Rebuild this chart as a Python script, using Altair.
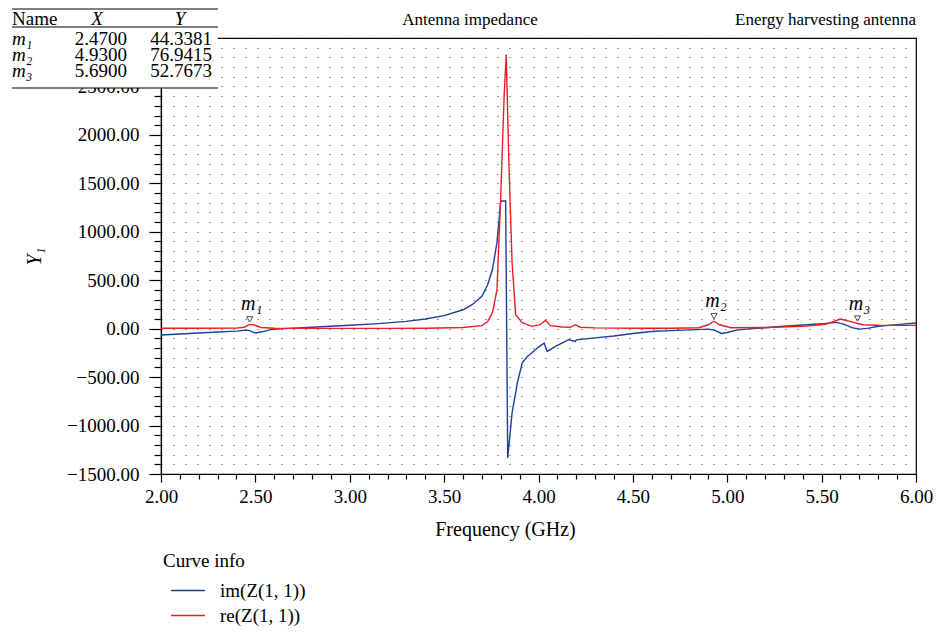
import altair as alt
import pandas as pd

# ---- data ----
im_freq = [2.00, 2.10, 2.20, 2.30, 2.40, 2.45, 2.47, 2.50, 2.53, 2.58, 2.65, 2.80, 3.00, 3.15,
           3.30, 3.40, 3.50, 3.60, 3.65, 3.70, 3.73, 3.756, 3.78, 3.80, 3.823, 3.826, 3.837,
           3.86, 3.888, 3.914, 3.94, 3.97, 4.00, 4.03, 4.046, 4.09, 4.16, 4.195, 4.20, 4.30,
           4.40, 4.50, 4.60, 4.70, 4.80, 4.90, 4.93, 4.97, 5.00, 5.05, 5.10, 5.20, 5.30, 5.40,
           5.50, 5.58, 5.62, 5.66, 5.70, 5.75, 5.80, 5.90, 6.00]
im_vals = [-65, -55, -45, -35, -25, -15, -20, -45, -35, -10, 0, 15, 35, 52,
           75, 100, 135, 195, 250, 335, 450, 610, 890, 1318, 1318, 1318, -1335,
           -870, -560, -352, -290, -240, -190, -150, -235, -183, -114, -131, -115, -95,
           -75, -50, -30, -20, -12, -5, -15, -50, -40, -15, -5, 10, 25, 38,
           50, 65, 45, 10, -5, 5, 25, 42, 58]

re_freq = [2.00, 2.20, 2.40, 2.44, 2.47, 2.50, 2.53, 2.60, 2.80, 3.00, 3.20, 3.40, 3.60, 3.70,
           3.73, 3.756, 3.78, 3.80, 3.818, 3.829, 3.843, 3.86, 3.879, 3.914, 3.965, 4.01, 4.037,
           4.063, 4.125, 4.168, 4.195, 4.22, 4.30, 4.50, 4.70, 4.85, 4.90, 4.93, 4.96, 5.02,
           5.20, 5.40, 5.52, 5.60, 5.65, 5.69, 5.72, 5.80, 6.00]
re_vals = [5, 5, 6, 15, 44, 35, 12, 5, 3, 3, 3, 5, 12, 31,
           70, 165, 400, 1370, 2404, 2830, 1718, 683, 145, 62, 24, 41, 86,
           31, 17, 14, 41, 15, 8, 5, 5, 10, 40, 77, 40, 10,
           12, 24, 45, 100, 75, 53, 41, 35, 34]

series_names = ["im(Z(1, 1))", "re(Z(1, 1))"]
series_colors = ["#1f3f9f", "#ee1d23"]

marker_names = ["m₁", "m₂", "m₃"]
marker_x = [2.47, 4.93, 5.69]
marker_y = [44.3381, 76.9415, 52.7673]

x_ticks = [round(2.0 + 0.1 * i, 1) for i in range(41)]
y_ticks = [-1500 + 100 * i for i in range(46)]

SERIF = "Liberation Serif"
W, H = 755, 436
PAD_L, PAD_T, PAD_R, PAD_B = 153, 30, 17, 155

df = pd.concat([
    pd.DataFrame({"freq": im_freq, "val": im_vals, "curve": series_names[0]}),
    pd.DataFrame({"freq": re_freq, "val": re_vals, "curve": series_names[1]}),
], ignore_index=True)
mk = pd.DataFrame({"name": marker_names, "freq": marker_x, "val": marker_y})
one = pd.DataFrame({"a": [0]})

x_major = "abs(datum.value*2 - round(datum.value*2)) < 0.001"
y_major = "abs(datum.value % 500) < 0.001"

x_axis = alt.Axis(
    values=x_ticks,
    labelExpr=f"{x_major} ? format(datum.value, '.2f') : ''",
    tickSize={"condition": {"test": x_major, "value": 8}, "value": 5},
    grid=False, domainColor="black", domainWidth=1.2, tickColor="black", tickWidth=1.2,
    labelFont=SERIF, labelFontSize=19, labelColor="black", labelPadding=5,
    labelOverlap=False, labelFlush=False,
    titleFont=SERIF, titleFontSize=20, titleFontWeight="normal", titleColor="black",
    titlePadding=13, titleX=344,
)
y_axis = alt.Axis(
    values=y_ticks,
    labelExpr=f"{y_major} ? format(datum.value, '.2f') : ''",
    tickSize={"condition": {"test": y_major, "value": 12}, "value": 7},
    grid=True, gridDash=[1, 11], gridColor="#333333", gridWidth=1,
    domainColor="black", domainWidth=1.2, tickColor="black", tickWidth=1.2,
    labelFont=SERIF, labelFontSize=19, labelColor="black", labelPadding=10,
    labelOverlap=False, labelFlush=False,
    titleFont=SERIF, titleFontSize=20, titleFontWeight="normal", titleFontStyle="italic",
    titleColor="black", titlePadding=22,
)

x_enc = alt.X("freq:Q", scale=alt.Scale(domain=[2, 6], nice=False, zero=False),
              axis=x_axis, title="Frequency (GHz)")
y_enc = alt.Y("val:Q", scale=alt.Scale(domain=[-1500, 3000], nice=False, zero=False),
              axis=y_axis, title="Y₁")

lines = alt.Chart(df).mark_line(strokeWidth=1.4, clip=True).encode(
    x=x_enc, y=y_enc,
    color=alt.Color("curve:N", scale=alt.Scale(domain=series_names, range=series_colors),
                    legend=alt.Legend(
                        orient="none", legendX=2, legendY=514, direction="vertical",
                        title="Curve info", titleFont=SERIF, titleFontSize=19,
                        titleFontWeight="normal", titleColor="black", titlePadding=7,
                        labelFont=SERIF, labelFontSize=19, labelColor="black",
                        symbolType="stroke", symbolSize=1156, symbolStrokeWidth=1.5,
                        symbolOffset=7, labelOffset=14, clipHeight=25, rowPadding=0)),
    order=alt.Order("freq:Q"),
)

tri = alt.Chart(mk).mark_point(shape="triangle-down", filled=False, stroke="black",
                               strokeWidth=1, size=38, yOffset=-5).encode(
    x=x_enc, y=y_enc)
mk_text = alt.Chart(mk).mark_text(font=SERIF, fontSize=20, fontStyle="italic",
                                  dy=-20, dx=2, color="black").encode(
    x=x_enc, y=y_enc, text="name:N")

layers = [lines, tri, mk_text]

# titles
layers.append(alt.Chart(one).mark_text(font=SERIF, fontSize=17, color="black", align="center",
                                       baseline="alphabetic").encode(
    x=alt.value(309), y=alt.value(-13), text=alt.value("Antenna impedance")))
layers.append(alt.Chart(one).mark_text(font=SERIF, fontSize=17, color="black", align="right",
                                       baseline="alphabetic").encode(
    x=alt.value(W), y=alt.value(-13), text=alt.value("Energy harvesting antenna")))

# marker table
layers.append(alt.Chart(one).mark_rect(color="white").encode(
    x=alt.value(-153), x2=alt.value(57), y=alt.value(-30), y2=alt.value(50)))
for yy in [-29, -11, 50]:
    layers.append(alt.Chart(one).mark_rule(color="black", strokeWidth=1).encode(
        x=alt.value(-149), x2=alt.value(57), y=alt.value(yy)))
hdr = dict(font=SERIF, fontSize=19, color="black", baseline="alphabetic")
layers.append(alt.Chart(one).mark_text(align="left", **hdr).encode(
    x=alt.value(-149), y=alt.value(-13), text=alt.value("Name")))
layers.append(alt.Chart(one).mark_text(align="center", fontStyle="italic", **hdr).encode(
    x=alt.value(-64), y=alt.value(-13), text=alt.value("X")))
layers.append(alt.Chart(one).mark_text(align="center", fontStyle="italic", **hdr).encode(
    x=alt.value(19), y=alt.value(-13), text=alt.value("Y")))
for i in range(3):
    yy = 7 + 16 * i
    layers.append(alt.Chart(one).mark_text(align="left", fontStyle="italic", **hdr).encode(
        x=alt.value(-149), y=alt.value(yy), text=alt.value(marker_names[i])))
    layers.append(alt.Chart(one).mark_text(align="right", **hdr).encode(
        x=alt.value(-34), y=alt.value(yy), text=alt.value(f"{marker_x[i]:.4f}")))
    layers.append(alt.Chart(one).mark_text(align="right", **hdr).encode(
        x=alt.value(51), y=alt.value(yy), text=alt.value(f"{marker_y[i]:.4f}")))

chart = alt.layer(*layers).properties(
    width=W, height=H,
    autosize=alt.AutoSizeParams(type="none"),
    padding={"left": PAD_L, "top": PAD_T, "right": PAD_R, "bottom": PAD_B},
    background="white",
).configure_view(stroke="black", strokeWidth=1.2)

chart.save("out.html", embed_options={"renderer": "svg", "actions": False})
